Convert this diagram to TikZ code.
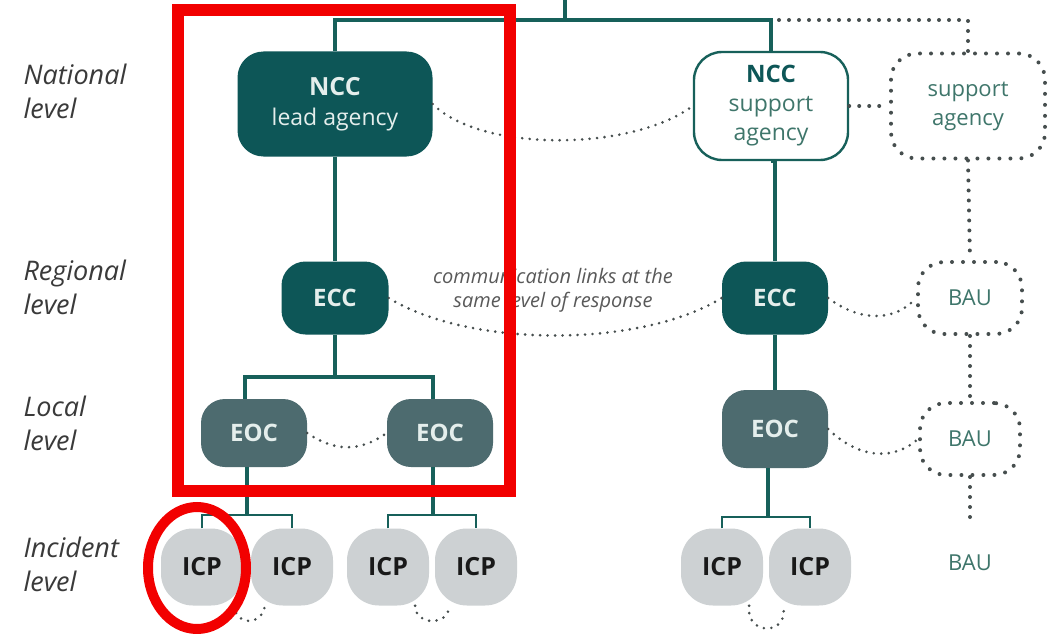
\documentclass[tikz,border=0pt]{standalone}
\usepackage{fontspec}
\setmainfont{Open Sans}
\definecolor{teal1}{HTML}{0D5657}
\definecolor{tline}{HTML}{17605A}
\definecolor{eocc}{HTML}{4D6B6F}
\definecolor{icpc}{HTML}{CDD1D3}
\definecolor{dotc}{HTML}{464E4E}
\definecolor{lighttxt}{HTML}{E4EEEC}
\definecolor{softteal}{HTML}{3F766B}
\definecolor{lvl}{HTML}{3A3A3A}
\definecolor{annot}{HTML}{F20000}
\begin{document}
\begin{tikzpicture}[x=1pt,y=-1pt,
  box/.style={rounded corners=24pt, inner sep=0pt, align=center},
  darkbox/.style={box, fill=teal1, text=lighttxt, font=\fontsize{23}{30}\selectfont},
  eocbox/.style={box, fill=eocc, text=lighttxt, font=\bfseries\fontsize{24}{28}\selectfont, minimum width=106pt},
  icpbox/.style={box, rounded corners=32pt, fill=icpc, text=black!90, font=\bfseries\fontsize{25}{28}\selectfont, minimum width=82pt, minimum height=77pt},
  dotbox/.style={box, rounded corners=26pt, draw=dotc, line width=4pt, line cap=round, dash pattern=on 0pt off 11pt, text=softteal, font=\fontsize{22}{29}\selectfont},
  tree/.style={draw=tline, line width=3.6pt},
  thin/.style={draw=tline, line width=2pt},
  dotlink/.style={draw=dotc, line width=2.9pt, line cap=round, dash pattern=on 0pt off 7.5pt},
  bigdots/.style={draw=dotc, line width=4pt, line cap=round, dash pattern=on 0pt off 10pt},
  lvltext/.style={anchor=west, align=left, text=lvl, font=\itshape\fontsize{27}{34}\selectfont},
  annotation/.style={draw=annot}
]
\useasboundingbox (0,0) rectangle (1063,634);
\fill[white] (0,0) rectangle (1063,634);

% level labels
\node[lvltext] (lnat) at (20,91) {National\\level};
\node[lvltext] (lreg) at (20,287) {Regional\\level};
\node[lvltext] (lloc) at (20,423) {Local\\level};
\node[lvltext] (linc) at (20,564) {Incident\\level};

% national
\node[darkbox, minimum width=195pt, minimum height=105pt, rounded corners=26pt] (lead) at (335,104) {\textbf{\fontsize{25}{30}\selectfont NCC}\\lead agency};
\node[box, draw=tline, line width=2.4pt, fill=white, minimum width=154pt, minimum height=108pt, rounded corners=28pt, text=softteal, font=\fontsize{23}{29}\selectfont] (sup) at (771,106) {\textbf{\textcolor{teal1}{\fontsize{24}{29}\selectfont NCC}}\\support\\agency};
\node[dotbox, minimum width=154pt, minimum height=105pt] (supag) at (968,106) {support\\agency};

% regional
\node[darkbox, font=\bfseries\fontsize{24}{28}\selectfont, minimum width=107pt, minimum height=73pt] (eccL) at (335,298) {ECC};
\node[darkbox, font=\bfseries\fontsize{24}{28}\selectfont, minimum width=106pt, minimum height=73pt] (eccR) at (775,298) {ECC};
\node[dotbox, minimum width=104pt, minimum height=72pt] (bau1) at (970,298) {BAU};

% local
\node[eocbox, minimum height=68pt] (eocL1) at (254,433) {EOC};
\node[eocbox, minimum height=68pt] (eocL2) at (440,433) {EOC};
\node[eocbox, minimum height=78pt] (eocR) at (775,429) {EOC};
\node[dotbox, minimum width=100pt, minimum height=72pt] (bau2) at (970,439) {BAU};

% incident
\node[icpbox] (icp1) at (202,567) {ICP};
\node[icpbox] (icp2) at (292,567) {ICP};
\node[icpbox] (icp3) at (388,567) {ICP};
\node[icpbox] (icp4) at (476,567) {ICP};
\node[icpbox] (icp5) at (722,567) {ICP};
\node[icpbox] (icp6) at (810,567) {ICP};
\node[box, text=softteal, font=\fontsize{22}{26}\selectfont] (bau3) at (970,563) {BAU};

% tree junctions
\coordinate (top) at (565,0);
\coordinate (jtop) at (565,20);
\coordinate (jreg) at (335,377);
\coordinate (jl1) at (247,515);
\coordinate (jl2) at (433,515);
\coordinate (jr) at (768,517);
\coordinate (bauend) at (970,523);

% solid tree
\draw[tree] (top) -- (jtop);
\draw[tree] (lead.north) -- (lead.north |- jtop) -- (sup.north |- jtop) -- (sup.north);
\draw[tree] (lead.south) -- (eccL.north);
\draw[tree] (eccL.south) -- (jreg);
\draw[tree] ([xshift=-9pt]eocL1.north) -- ([xshift=-9pt]eocL1.north |- jreg) -- ([xshift=-7pt]eocL2.north |- jreg) -- ([xshift=-7pt]eocL2.north);
\draw[tree] ([xshift=-7pt]eocL1.south) -- (jl1);
\draw[tree] ([xshift=-7pt]eocL2.south) -- (jl2);
\draw[tree] (sup.south) -- (sup.south -| eccR.north) -- (eccR.north);
\draw[tree] (eccR.south) -- (eocR.north);
\draw[tree] ([xshift=-7pt]eocR.south) -- (jr);
\draw[thin] (icp1.north) -- (icp1.north |- jl1) -- (icp2.north |- jl1) -- (icp2.north);
\draw[thin] (icp3.north) -- (icp3.north |- jl2) -- (icp4.north |- jl2) -- (icp4.north);
\draw[thin] (icp5.north) -- (icp5.north |- jr) -- (icp6.north |- jr) -- (icp6.north);

% dotted links
\draw[bigdots] ([xshift=8pt]sup.north |- jtop) -- (supag.north |- jtop) -- (supag.north);
\draw[bigdots] (sup.east) -- (supag.west);
\draw[bigdots] (supag.south) -- (bau1.north);
\draw[bigdots] (bau1.south) -- (bau2.north);
\draw[bigdots] (bau2.south) -- (bauend);
\draw[dotlink] (lead.east) .. controls (480,152) and (630,152) .. (sup.west);
\draw[dotlink] (eccL.east) .. controls (470,348) and (640,348) .. (eccR.west);
\draw[dotlink] (eocL1.east) .. controls (335,452) and (360,452) .. (eocL2.west);
\draw[dotlink] (eccR.east) .. controls (860,322) and (895,322) .. (bau1.west);
\draw[dotlink] (eocR.east) .. controls (860,460) and (895,460) .. (bau2.west);
\draw[dotlink] (icp1.-50) .. controls (235,626) and (262,626) .. (icp2.-125);
\draw[dotlink] (icp3.-55) .. controls (415,626) and (450,626) .. (icp4.-125);
\draw[dotlink] (icp5.-55) .. controls (745,636) and (790,636) .. (icp6.-125);

% label of links
\node[align=center, text=black!65, font=\itshape\fontsize{20}{24}\selectfont] (commtxt) at (553,290) {communication links at the\\same level of response};

% red annotations
\draw[annotation, line width=12pt] (178,10) rectangle (510,491);
\draw[annotation, line width=10pt] (197,568) ellipse [x radius=49, y radius=61];
\end{tikzpicture}
\end{document}
